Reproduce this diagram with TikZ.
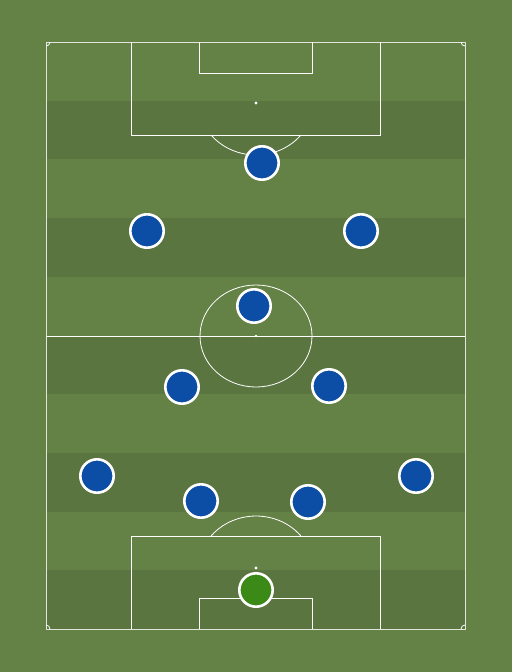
\documentclass[tikz,border=0pt]{standalone}
\usepackage{tikz}
\usetikzlibrary{positioning,calc}
\definecolor{pitchlight}{HTML}{648146}
\definecolor{pitchdark}{HTML}{5A753F}
\definecolor{shirtblue}{HTML}{0C4DA6}
\definecolor{keepergreen}{HTML}{3B8A17}
\newcommand \myplayer[4]
{
\node[player,fill=#4] (#1) at (#2,#3) {};
}

\begin{document}
\begin{tikzpicture}[x=1pt,y=-1pt, line join=round,
  pitchline/.style={white,line width=1pt},
  player/.style={circle,draw=white,line width=2.6pt,minimum size=33.4pt,inner sep=0pt}]
\useasboundingbox (0,0) rectangle (512,672);
\fill[pitchlight] (0,0) rectangle (512,672);
\foreach \i in {1,3,5,7,9}
  \fill[pitchdark] (46,{42+\i*58.7}) rectangle (465,{42+(\i+1)*58.7});
\coordinate (TL) at (46,42);
\coordinate (BR) at (465,629);
\coordinate (TR) at (465,42);
\coordinate (BL) at (46,629);
\coordinate (Mid) at (256,336);
\coordinate (SpotT) at (256,103);
\coordinate (SpotB) at (256,568);
\draw[white!80!pitchlight,line width=1pt] (TL) rectangle (BR);
\draw[pitchline] (46,336)--(465,336);
\draw[pitchline] (131,42)--(131,135)--(380,135)--(380,42);
\draw[pitchline] (199,42)--(199,73)--(312,73)--(312,42);
\draw[pitchline] (131,629)--(131,536)--(380,536)--(380,629);
\draw[pitchline] (199,629)--(199,598)--(312,598)--(312,629);
\draw[white,line width=0.8pt] (Mid) ellipse[x radius=56,y radius=51];
\draw[white,line width=0.8pt] (SpotT) ++(44.9,32) arc[start angle=38,end angle=142,x radius=57,y radius=52];
\draw[white,line width=0.8pt] (SpotB) ++(44.9,-32) arc[start angle=-38,end angle=-142,x radius=57,y radius=52];
\fill[white] (Mid) circle[radius=1.4] (SpotT) circle[radius=1.6] (SpotB) circle[radius=1.6];
% corners
\draw[white,line width=0.8pt] (50,42) arc[start angle=0,end angle=90,radius=4];
\draw[white,line width=0.8pt] (461,42) arc[start angle=180,end angle=90,radius=4];
\draw[white,line width=0.8pt] (50,629) arc[start angle=0,end angle=-90,radius=4];
\draw[white,line width=0.8pt] (461,629) arc[start angle=180,end angle=270,radius=4];
% players
\myplayer{st}{262}{163}{shirtblue}
\myplayer{lw}{147}{231}{shirtblue}
\myplayer{rw}{361}{231}{shirtblue}
\myplayer{am}{254}{306}{shirtblue}
\myplayer{lcm}{182}{387}{shirtblue}
\myplayer{rcm}{329}{386}{shirtblue}
\myplayer{lb}{97}{476}{shirtblue}
\myplayer{rb}{416}{476}{shirtblue}
\myplayer{lcb}{201}{501}{shirtblue}
\myplayer{rcb}{308}{502}{shirtblue}
\myplayer{gk}{256}{590}{keepergreen}
\end{tikzpicture}
\end{document}
